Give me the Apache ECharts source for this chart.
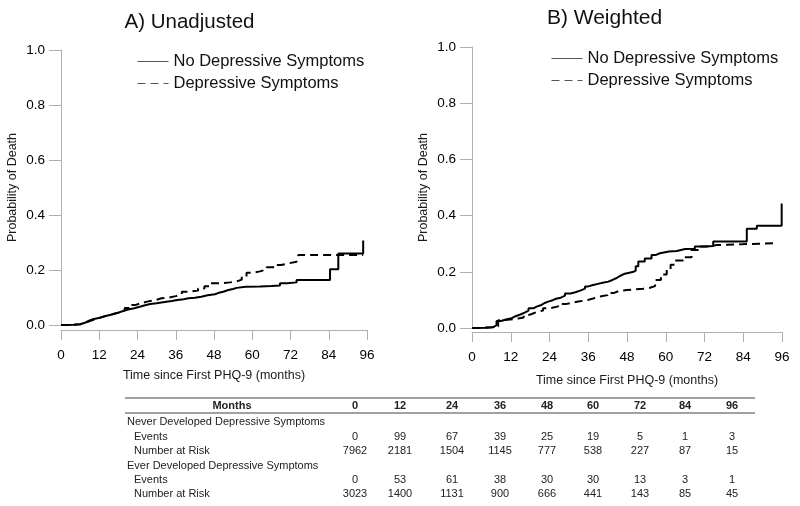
<!DOCTYPE html>
<html>
<head>
<meta charset="utf-8">
<script src="https://cdn.jsdelivr.net/npm/echarts@6/dist/echarts.min.js"></script>
<style>html,body{margin:0;padding:0;background:#fff}#c{width:800px;height:506px}</style>
</head>
<body>
<div id="c"></div>
<script>
// ---- data ----
var seriesNames = ['No Depressive Symptoms', 'Depressive Symptoms'];
var panelTitles = ['A) Unadjusted', 'B) Weighted'];
var xTicks = [0, 12, 24, 36, 48, 60, 72, 84, 96];
var yTicks = [0, 0.2, 0.4, 0.6, 0.8, 1.0];

var noDepA = [[0,0],[2,0.001],[4,0.003],[6,0.008],[7.5,0.015],[8.6,0.021],[10,0.026],[12.2,0.033],[14,0.038],[16,0.045],[18,0.051],[19.5,0.056],[21,0.061],[23,0.067],[25,0.072],[26.4,0.076],[28,0.079],[30,0.083],[32,0.087],[34.7,0.091],[36.5,0.094],[38.5,0.097],[40,0.099],[42,0.103],[44,0.108],[46,0.112],[48.3,0.117],[49.5,0.121],[50.9,0.127],[52.5,0.131],[54,0.135],[55.1,0.139],[58,0.14],[62.4,0.142],[66,0.144],[68.7,0.152],[71,0.155],[73.9,0.164],[84.4,0.2025],[87,0.26],[94.8,0.307]];
var depA = [[0,0],[2,0.001],[4,0.003],[6,0.007],[7.5,0.014],[9,0.02],[10.5,0.026],[12,0.033],[14,0.039],[16,0.046],[18.5,0.053],[20,0.062],[22.2,0.073],[23.5,0.079],[25,0.085],[27,0.09],[29.5,0.097],[31.5,0.1],[34,0.105],[36,0.112],[37.9,0.121],[40,0.125],[43,0.133],[45,0.141],[46.7,0.152],[50,0.155],[53,0.158],[55,0.165],[56.7,0.176],[58.2,0.19],[60,0.195],[62.4,0.202],[64.5,0.21],[67.1,0.218],[69,0.224],[71.3,0.23],[73.9,0.242],[74.5,0.255],[94.8,0.255]];
var noDepB = [[0,0],[2,0.001],[4,0.003],[6.6,0.01],[7.6,0.025],[9,0.03],[10.5,0.035],[12.3,0.042],[13.5,0.048],[15,0.055],[16.3,0.062],[17.5,0.07],[19,0.076],[20,0.082],[21.5,0.089],[22.5,0.094],[23.6,0.099],[25,0.104],[26,0.108],[27.5,0.115],[28.8,0.123],[30.5,0.127],[32,0.133],[33.5,0.14],[35,0.148],[36,0.153],[37.5,0.157],[39,0.161],[40.5,0.165],[42.2,0.171],[43.5,0.178],[44.8,0.185],[45.8,0.192],[47,0.196],[48.4,0.2],[50,0.204],[50.7,0.22],[51.5,0.237],[53.5,0.247],[55.6,0.26],[57,0.266],[58.2,0.272],[61,0.274],[63.4,0.281],[66,0.282],[69,0.29],[72,0.292],[74.7,0.308],[85.1,0.353],[88.2,0.364],[95.9,0.443]];
var depB = [[0,0],[2,0.001],[4,0.003],[6,0.006],[8.1,0.028],[10,0.031],[12.9,0.034],[14.3,0.037],[16,0.045],[17.2,0.05],[18.5,0.057],[20,0.062],[22,0.07],[24,0.077],[26.7,0.085],[29,0.09],[31,0.094],[32.9,0.097],[34.5,0.1],[36,0.105],[37.5,0.111],[39.1,0.117],[42,0.125],[44,0.131],[45.3,0.135],[48,0.137],[50,0.14],[53,0.143],[55.1,0.149],[56.7,0.171],[58.5,0.19],[60.3,0.207],[61.5,0.225],[62.9,0.24],[65.4,0.252],[68,0.278],[70.6,0.29],[73,0.295],[75.8,0.302],[94.4,0.302]];

var tableHeader = 'Months';
var tableMonths = [0, 12, 24, 36, 48, 60, 72, 84, 96];
var group1Label = 'Never Developed Depressive Symptoms';
var group2Label = 'Ever Developed Depressive Symptoms';
var rowEvents = 'Events';
var rowRisk = 'Number at Risk';
var neverEvents = [0, 99, 67, 39, 25, 19, 5, 1, 3];
var neverRisk = [7962, 2181, 1504, 1145, 777, 538, 227, 87, 15];
var everEvents = [0, 53, 61, 38, 30, 30, 13, 3, 1];
var everRisk = [3023, 1400, 1131, 900, 666, 441, 143, 85, 45];

// ---- layout ----
var FONT = 'Liberation Sans, Arial, sans-serif';
var colX = [355, 400, 452, 500, 547, 593, 640, 685, 732];

var chart = echarts.init(document.getElementById('c'), null, {renderer: 'canvas'});

function xAxisCfg(gi, off, gap) {
  return {
    gridIndex: gi, type: 'value', min: 0, max: 96, interval: 12, offset: off,
    name: 'Time since First PHQ-9 (months)', nameLocation: 'middle', nameGap: gap,
    nameTextStyle: {fontFamily: FONT, fontSize: 12.5, fontWeight: 'normal', color: '#1a1a1a'},
    axisLine: {onZero: false, lineStyle: {color: '#b0b0b0', width: 1}},
    axisTick: {length: 10, lineStyle: {color: '#b0b0b0'}},
    axisLabel: {fontFamily: FONT, fontSize: 13.5, fontWeight: 'normal', color: '#000', margin: 18},
    splitLine: {show: false}
  };
}
function yAxisCfg(gi) {
  return {
    gridIndex: gi, type: 'value', min: 0, max: 1, interval: 0.2,
    name: 'Probability of Death', nameLocation: 'middle', nameGap: 42,
    nameTextStyle: {fontFamily: FONT, fontSize: 12.5, fontWeight: 'normal', color: '#1a1a1a'},
    axisLine: {show: true, lineStyle: {color: '#b0b0b0', width: 1}},
    axisTick: {show: true, length: 12, lineStyle: {color: '#b0b0b0'}},
    axisLabel: {fontFamily: FONT, fontSize: 13.5, fontWeight: 'normal', color: '#000', margin: 16,
      formatter: function (v) { return v.toFixed(1); }},
    splitLine: {show: false}
  };
}
function lineSeries(name, data, gi, dashed) {
  return {
    name: name, type: 'line', xAxisIndex: gi, yAxisIndex: gi, data: data,
    step: 'end', symbol: 'none', silent: true, animation: false,
    lineStyle: {color: '#000', width: 2, type: dashed ? [8, 5] : 'solid'}
  };
}
function legendCfg(left, top) {
  return {
    left: left, top: top, orient: 'vertical', itemWidth: 31, itemHeight: 14, itemGap: 5,
    data: seriesNames,
    textStyle: {fontFamily: FONT, fontSize: 16.5, color: '#111'},
    lineStyle: {width: 1, color: '#555'}, itemStyle: {opacity: 0}, selectedMode: false
  };
}

var graphics = [];
function txt(x, y, s, opts) {
  opts = opts || {};
  graphics.push({type: 'text', x: x, y: y, silent: true, style: {
    text: String(s), fill: '#222', font: (opts.bold ? 'bold ' : '') + '11px ' + FONT,
    textAlign: opts.align || 'center', textVerticalAlign: 'middle'
  }});
}
function hline(y, x1, x2, w) {
  graphics.push({type: 'line', silent: true, shape: {x1: x1, y1: y, x2: x2, y2: y},
    style: {stroke: '#444', lineWidth: w}});
}
hline(398, 125, 755, 1.2);
hline(413, 125, 755, 1.2);
txt(232, 406, tableHeader, {bold: true});
tableMonths.forEach(function (m, i) { txt(colX[i], 406, m, {bold: true}); });
txt(127, 422, group1Label, {align: 'left'});
txt(134, 437, rowEvents, {align: 'left'});
txt(134, 451, rowRisk, {align: 'left'});
txt(127, 466, group2Label, {align: 'left'});
txt(134, 480, rowEvents, {align: 'left'});
txt(134, 494, rowRisk, {align: 'left'});
[[neverEvents, 437], [neverRisk, 451], [everEvents, 480], [everRisk, 494]].forEach(function (r) {
  r[0].forEach(function (v, i) { txt(colX[i], r[1], v); });
});

var option = {
  backgroundColor: '#fff',
  animation: false,
  title: [
    {text: panelTitles[0], left: 184.5, top: 7, textAlign: 'center',
      textStyle: {fontFamily: FONT, fontSize: 20.5, fontWeight: 'normal', color: '#111'}},
    {text: panelTitles[1], left: 599.5, top: 3, textAlign: 'center',
      textStyle: {fontFamily: FONT, fontSize: 21, fontWeight: 'normal', color: '#111'}}
  ],
  legend: [legendCfg(132, 48), legendCfg(546, 45)],
  grid: [
    {left: 61, top: 50, width: 306, height: 275},
    {left: 472, top: 47, width: 310, height: 281}
  ],
  xAxis: [xAxisCfg(0, 5, 39), xAxisCfg(1, 4, 42)],
  yAxis: [yAxisCfg(0), yAxisCfg(1)],
  series: [
    lineSeries(seriesNames[0], noDepA, 0, false),
    lineSeries(seriesNames[1], depA, 0, true),
    lineSeries(seriesNames[0], noDepB, 1, false),
    lineSeries(seriesNames[1], depB, 1, true)
  ],
  graphic: graphics
};
chart.setOption(option);
</script>
</body>
</html>
